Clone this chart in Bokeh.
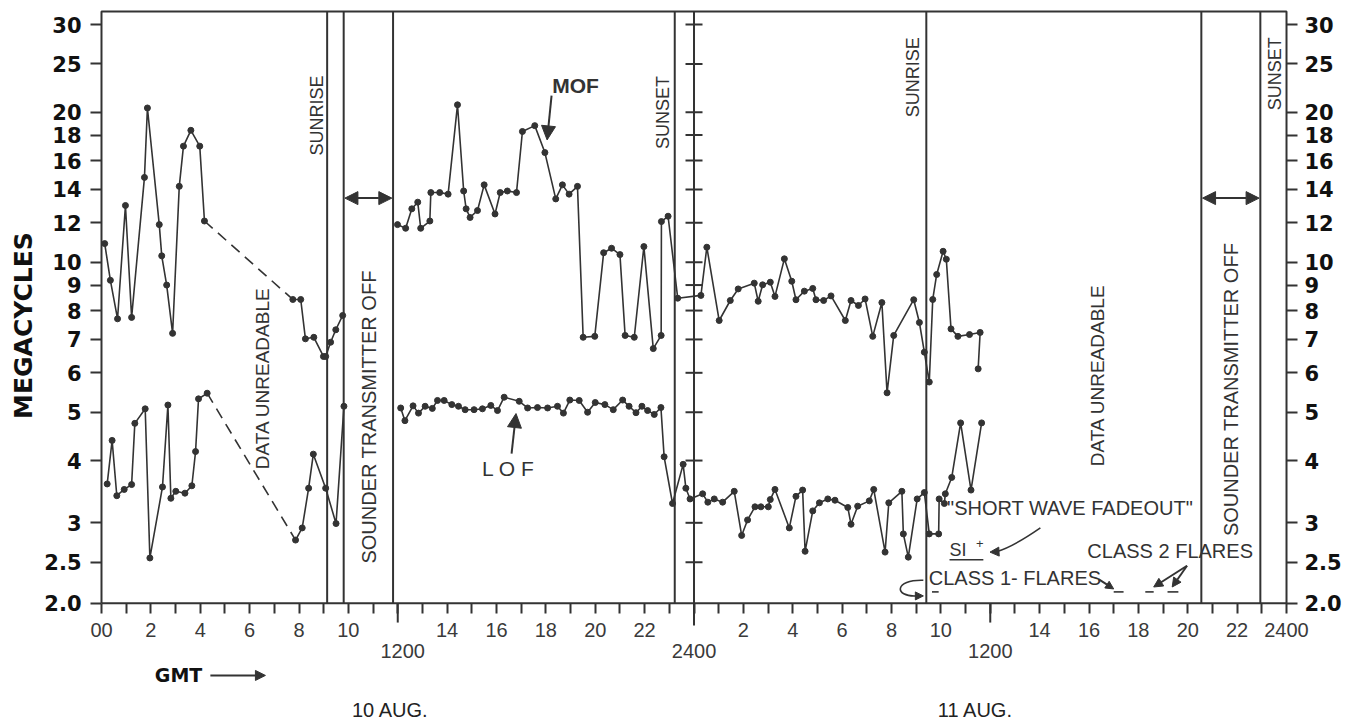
from bokeh.plotting import figure
from bokeh.models import Range1d, LogAxis, FixedTicker, Label, Arrow, NormalHead
from bokeh.embed import file_html
from bokeh.resources import INLINE

# ---------------- data (hours since 00 GMT 10 Aug, megacycles) ----------------
mof_am_hours = [0.13, 0.36, 0.65, 0.97, 1.22, 1.74, 1.86, 2.34, 2.44, 2.64, 2.88, 3.15, 3.32, 3.62, 3.98, 4.17]
mof_am = [10.9, 9.2, 7.7, 13.0, 7.75, 14.8, 20.4, 11.9, 10.3, 9.0, 7.2, 14.2, 17.1, 18.4, 17.1, 12.1]

mof_pre_hours = [7.75, 8.07, 8.26, 8.60, 8.99, 9.08, 9.28, 9.49, 9.77]
mof_pre = [8.42, 8.42, 7.02, 7.07, 6.47, 6.47, 6.91, 7.32, 7.82]

lof_am_hours = [0.23, 0.43, 0.62, 0.92, 1.22, 1.35, 1.77, 1.96, 2.47, 2.69, 2.81, 3.01, 3.38, 3.66, 3.81, 3.93, 4.28]
lof_am = [3.59, 4.39, 3.40, 3.50, 3.58, 4.75, 5.08, 2.55, 3.54, 5.17, 3.36, 3.47, 3.44, 3.56, 4.17, 5.32, 5.46]

lof_pre_hours = [7.86, 8.13, 8.39, 8.58, 9.08, 9.50, 9.82]
lof_pre = [2.77, 2.93, 3.52, 4.12, 3.52, 2.99, 5.14]

mof_main_hours = [11.99, 12.32, 12.57, 12.81, 12.93, 13.30, 13.34, 13.70, 14.04, 14.42,
                  14.67, 14.77, 14.93, 15.23, 15.50, 15.94, 16.15, 16.44, 16.81, 17.05,
                  17.55, 17.96, 18.40, 18.67, 18.94, 19.28, 19.51, 19.98, 20.34, 20.66,
                  21.00, 21.21, 21.58, 21.97, 22.35, 22.67, 22.68, 22.95, 23.34, 24.28,
                  24.52, 25.02, 25.47, 25.79, 26.44, 26.60, 26.78, 27.09, 27.28, 27.66,
                  27.96, 28.13, 28.47, 28.81, 28.94, 29.25, 29.55, 30.13, 30.36, 30.66,
                  30.93, 31.24, 31.61, 31.82, 32.09, 32.90, 33.13, 33.33, 33.53, 33.67,
                  33.83, 34.09, 34.22, 34.41, 34.69, 35.16, 35.59, 35.51]
mof_main = [11.9, 11.7, 12.8, 13.2, 11.7, 12.1, 13.8, 13.8, 13.7, 20.7,
            13.9, 12.8, 12.3, 12.7, 14.3, 12.5, 13.8, 13.9, 13.8, 18.3,
            18.8, 16.6, 13.4, 14.3, 13.7, 14.2, 7.07, 7.10, 10.45, 10.67,
            10.36, 7.13, 7.07, 10.75, 6.71, 7.13, 12.07, 12.37, 8.47, 8.58,
            10.72, 7.64, 8.38, 8.84, 9.08, 8.35, 9.01, 9.12, 8.54, 10.16,
            9.16, 8.41, 8.75, 8.86, 8.41, 8.38, 8.56, 7.64, 8.38, 8.19,
            8.44, 7.10, 8.30, 5.47, 7.13, 8.41, 7.57, 6.60, 5.75, 8.42,
            9.45, 10.52, 10.14, 7.35, 7.10, 7.16, 7.23, 6.11]

lof_main_hours = [12.12, 12.29, 12.62, 12.84, 13.11, 13.40, 13.61, 13.88, 14.19, 14.46,
                  14.73, 15.09, 15.43, 15.77, 16.04, 16.31, 16.92, 17.26, 17.66, 18.07,
                  18.47, 18.71, 18.97, 19.35, 19.69, 20.00, 20.39, 20.73, 21.11, 21.37,
                  21.65, 21.89, 22.12, 22.39, 22.66, 22.79, 23.13, 23.56, 23.67, 23.84,
                  24.35, 24.56, 24.82, 25.16, 25.63, 25.93, 26.17, 26.47, 26.71, 27.01,
                  27.09, 27.28, 27.86, 28.13, 28.40, 28.50, 28.81, 29.08, 29.42, 29.71,
                  30.23, 30.36, 30.63, 31.10, 31.28, 31.74, 31.89, 32.42, 32.48, 32.68,
                  33.04, 33.33, 33.53, 33.91, 33.93, 34.14, 34.18, 34.44, 34.80, 35.22,
                  35.65]
lof_main = [5.10, 4.81, 5.15, 4.98, 5.14, 5.09, 5.28, 5.28, 5.18, 5.14,
            5.06, 5.06, 5.08, 5.16, 5.04, 5.36, 5.26, 5.10, 5.11, 5.10,
            5.14, 4.98, 5.29, 5.28, 5.00, 5.23, 5.18, 5.06, 5.29, 5.14,
            4.99, 5.14, 5.04, 4.95, 5.11, 4.07, 3.28, 3.93, 3.52, 3.35,
            3.43, 3.30, 3.35, 3.30, 3.47, 2.83, 3.04, 3.23, 3.23, 3.23,
            3.34, 3.50, 2.93, 3.39, 3.49, 2.63, 3.17, 3.29, 3.35, 3.33,
            3.22, 2.98, 3.24, 3.32, 3.50, 2.62, 3.29, 3.47, 2.85, 2.56,
            3.35, 3.45, 2.85, 2.85, 3.35, 3.28, 3.43, 3.70, 4.76, 3.49,
            4.76]

# event times (hours)
sunrise_hours = [9.14, 33.41]
sunset_hours = [23.22]
transmitter_off = [(9.81, 11.81), (44.55, 46.94)]
day_break = 24

# axis ticks / labels
y_ticks = [2.069, 2.5, 3, 4, 5, 6, 7, 8, 9, 10, 12, 14, 16, 18, 20, 25, 30]
y_tick_labels = ["2.0", "2.5", "3", "4", "5", "6", "7", "8", "9", "10", "12", "14", "16", "18", "20", "25", "30"]
x_ticks = list(range(0, 49))
x_tick_labels = {0: "00", 2: "2", 4: "4", 6: "6", 8: "8", 10: "10", 14: "14", 16: "16", 18: "18",
                 20: "20", 22: "22", 26: "2", 28: "4", 30: "6", 32: "8", 34: "10", 38: "14",
                 40: "16", 42: "18", 44: "20", 46: "22", 48: "2400"}
x_second_row = [(12.2, "1200"), (24.0, "2400"), (36.0, "1200")]
long_ticks = [12, 36]

# chart box (data limits of the drawn box)
X0, X1 = 0, 48
Y0, Y1 = y_ticks[0], 31.86

INK = "#333333"

# the frame covers the whole canvas; axes are placed at the box edges
p = figure(frame_width=1350, frame_height=720, output_backend="svg", toolbar_location=None,
           x_range=Range1d(-4.0911, 50.592), y_range=Range1d(1.2033, 33.520), y_axis_type="log",
           min_border_left=0, min_border_right=0, min_border_top=0, min_border_bottom=0)
p.xgrid.visible = False
p.ygrid.visible = False
p.outline_line_color = None
p.background_fill_color = "white"
p.border_fill_color = "white"

y_over = {t: l for t, l in zip(y_ticks, y_tick_labels)}


def style_y(ax, loc, standoff):
    ax.fixed_location = loc
    ax.ticker = FixedTicker(ticks=y_ticks, minor_ticks=[])
    ax.major_label_overrides = y_over
    ax.major_tick_out = 11
    ax.major_tick_in = 0
    ax.minor_tick_out = 0
    ax.minor_tick_in = 0
    ax.major_tick_line_color = INK
    ax.major_tick_line_width = 2
    ax.axis_line_color = None
    ax.major_label_text_font = "DejaVu Sans"
    ax.major_label_text_font_style = "bold"
    ax.major_label_text_font_size = "21px"
    ax.major_label_text_color = "#111111"
    ax.major_label_standoff = standoff


style_y(p.yaxis[0], X0, 9)
yr = LogAxis()
style_y(yr, X1, 7)
p.add_layout(yr, "right")

xa = p.xaxis[0]
xa.fixed_location = Y0
xa.ticker = FixedTicker(ticks=x_ticks, minor_ticks=[])
xa.major_label_overrides = {t: x_tick_labels.get(t, "") for t in x_ticks}
xa.major_tick_out = 10
xa.major_tick_in = 0
xa.minor_tick_out = 0
xa.minor_tick_in = 0
xa.major_tick_line_color = INK
xa.major_tick_line_width = 2
xa.axis_line_color = None
xa.major_label_text_font = "Liberation Sans"
xa.major_label_text_font_size = "20px"
xa.major_label_text_color = "#3a3a3a"
xa.major_label_standoff = 10

# chart box
p.line([X0, X1, X1, X0, X0], [Y0, Y0, Y1, Y1, Y0], line_color=INK, line_width=2)

# longer ticks at 1200 and the 2400 scale line (extends below the box)
p.segment(x0=long_ticks, y0=[Y0] * len(long_ticks), x1=long_ticks, y1=[1.892] * len(long_ticks),
          line_color=INK, line_width=2)
p.segment(x0=[day_break], y0=[1.866], x1=[day_break], y1=[Y1], line_color=INK, line_width=2)
p.scatter([day_break] * (len(y_ticks) - 1), y_ticks[1:], marker="dash", size=17, line_color=INK, line_width=2)

# vertical event lines
ev = sunrise_hours + sunset_hours + [h for pair in transmitter_off for h in pair]
p.segment(x0=ev, y0=[Y0] * len(ev), x1=ev, y1=[Y1] * len(ev), line_color=INK, line_width=2)


def series(h, v):
    p.line(h, v, line_color=INK, line_width=1.6)
    p.scatter(h, v, size=6, fill_color=INK, line_color=INK)


for h, v in [(mof_am_hours, mof_am), (mof_pre_hours, mof_pre), (lof_am_hours, lof_am),
             (lof_pre_hours, lof_pre), (mof_main_hours, mof_main), (lof_main_hours, lof_main)]:
    series(h, v)

# dashed connections across the unreadable gap
p.line([mof_am_hours[-1], mof_pre_hours[0]], [mof_am[-1], mof_pre[0]], line_color=INK, line_width=1.6, line_dash="11 7")
p.line([lof_am_hours[-1], lof_pre_hours[0]], [lof_am[-1], lof_pre[0]], line_color=INK, line_width=1.6, line_dash="11 7")


def vlabel(x, y, text, size="18px", font="Liberation Sans", style="normal", color=INK):
    p.add_layout(Label(x=x, y=y, text=text, angle=90, angle_units="deg", text_align="center",
                       text_baseline="middle", text_font=font, text_font_size=size,
                       text_font_style=style, text_color=color))


def hlabel(x, y, text, size="18px", style="normal", align="center", font="Liberation Sans", color=INK):
    p.add_layout(Label(x=x, y=y, text=text, text_align=align, text_baseline="middle",
                       text_font=font, text_font_size=size, text_font_style=style, text_color=color))


vlabel(-3.16, 7.465, "MEGACYCLES", "25px", font="DejaVu Sans", style="bold", color="#111111")

vlabel(8.71, 19.7, "SUNRISE", "18px")
vlabel(6.54, 5.85, "DATA UNREADABLE", "19px")
vlabel(10.85, 5.02, "SOUNDER  TRANSMITTER  OFF", "20px")
vlabel(22.76, 19.98, "SUNSET", "18px")
vlabel(32.89, 23.5, "SUNRISE", "18px")
vlabel(40.36, 5.93, "DATA UNREADABLE", "19px")
vlabel(45.76, 5.70, "SOUNDER  TRANSMITTER  OFF", "20px")
vlabel(47.55, 23.9, "SUNSET", "18px")

hlabel(19.2, 22.6, "MOF", "21px", "bold")
hlabel(16.48, 3.86, "L O F", "21px")


def arrow(x0, y0, x1, y1, size=11, both=False, width=2):
    head = NormalHead(size=size, fill_color=INK, line_color=INK)
    kw = dict(start=NormalHead(size=size, fill_color=INK, line_color=INK)) if both else dict(start=None)
    p.add_layout(Arrow(x_start=x0, y_start=y0, x_end=x1, y_end=y1, end=head, line_color=INK,
                       line_width=width, **kw))


arrow(18.23, 21.6, 18.05, 17.6, size=14)
arrow(16.61, 4.13, 16.79, 4.97, size=14)
for a, b in transmitter_off:
    arrow(a + 0.05, 13.45, b - 0.05, 13.45, size=13, both=True)

# flare annotations
hlabel(34.25, 3.21, '"SHORT  WAVE  FADEOUT"', "20px", align="left")
hlabel(34.35, 2.64, "SI", "18px", align="left")
hlabel(35.42, 2.73, "+", "13px", align="left")
p.line([34.35, 35.72], [2.53, 2.53], line_color=INK, line_width=1.6)
p.quadratic(x0=[38.03], y0=[2.93], x1=[36.25], y1=[2.625], cx=[36.9], cy=[2.68], line_color=INK, line_width=1.6)
arrow(36.3, 2.625, 35.99, 2.62, size=9)
hlabel(43.4, 2.63, "CLASS 2  FLARES", "20px")
hlabel(37.0, 2.32, "CLASS 1- FLARES", "20px")
arrow(40.4, 2.31, 41.0, 2.21, size=8)
arrow(43.97, 2.46, 42.62, 2.23, size=9)
arrow(43.97, 2.46, 43.37, 2.23, size=9)
for a, b in [(41.0, 41.4), (42.28, 42.62), (43.18, 43.62), (33.64, 33.91)]:
    p.line([a, b], [2.18, 2.18], line_color=INK, line_width=1.6)
p.bezier(x0=[33.29], y0=[2.30], x1=[33.0], y1=[2.14], cx0=[32.1], cy0=[2.31], cx1=[32.1], cy1=[2.13],
         line_color=INK, line_width=1.6)
arrow(33.0, 2.14, 33.29, 2.14, size=8)

# labels below the axis
for x, t in x_second_row:
    hlabel(x, 1.6555, t, "20px", color="#3a3a3a")
hlabel(3.12, 1.4819, "GMT", "19px", "bold", font="DejaVu Sans", color="#111111")
arrow(4.41, 1.4819, 6.64, 1.4819, size=10)
hlabel(11.7, 1.2659, "10 AUG.", "20px", color="#222222")
hlabel(35.4, 1.2659, "11 AUG.", "20px", color="#222222")

open("out.html", "w").write(file_html(p, INLINE))
